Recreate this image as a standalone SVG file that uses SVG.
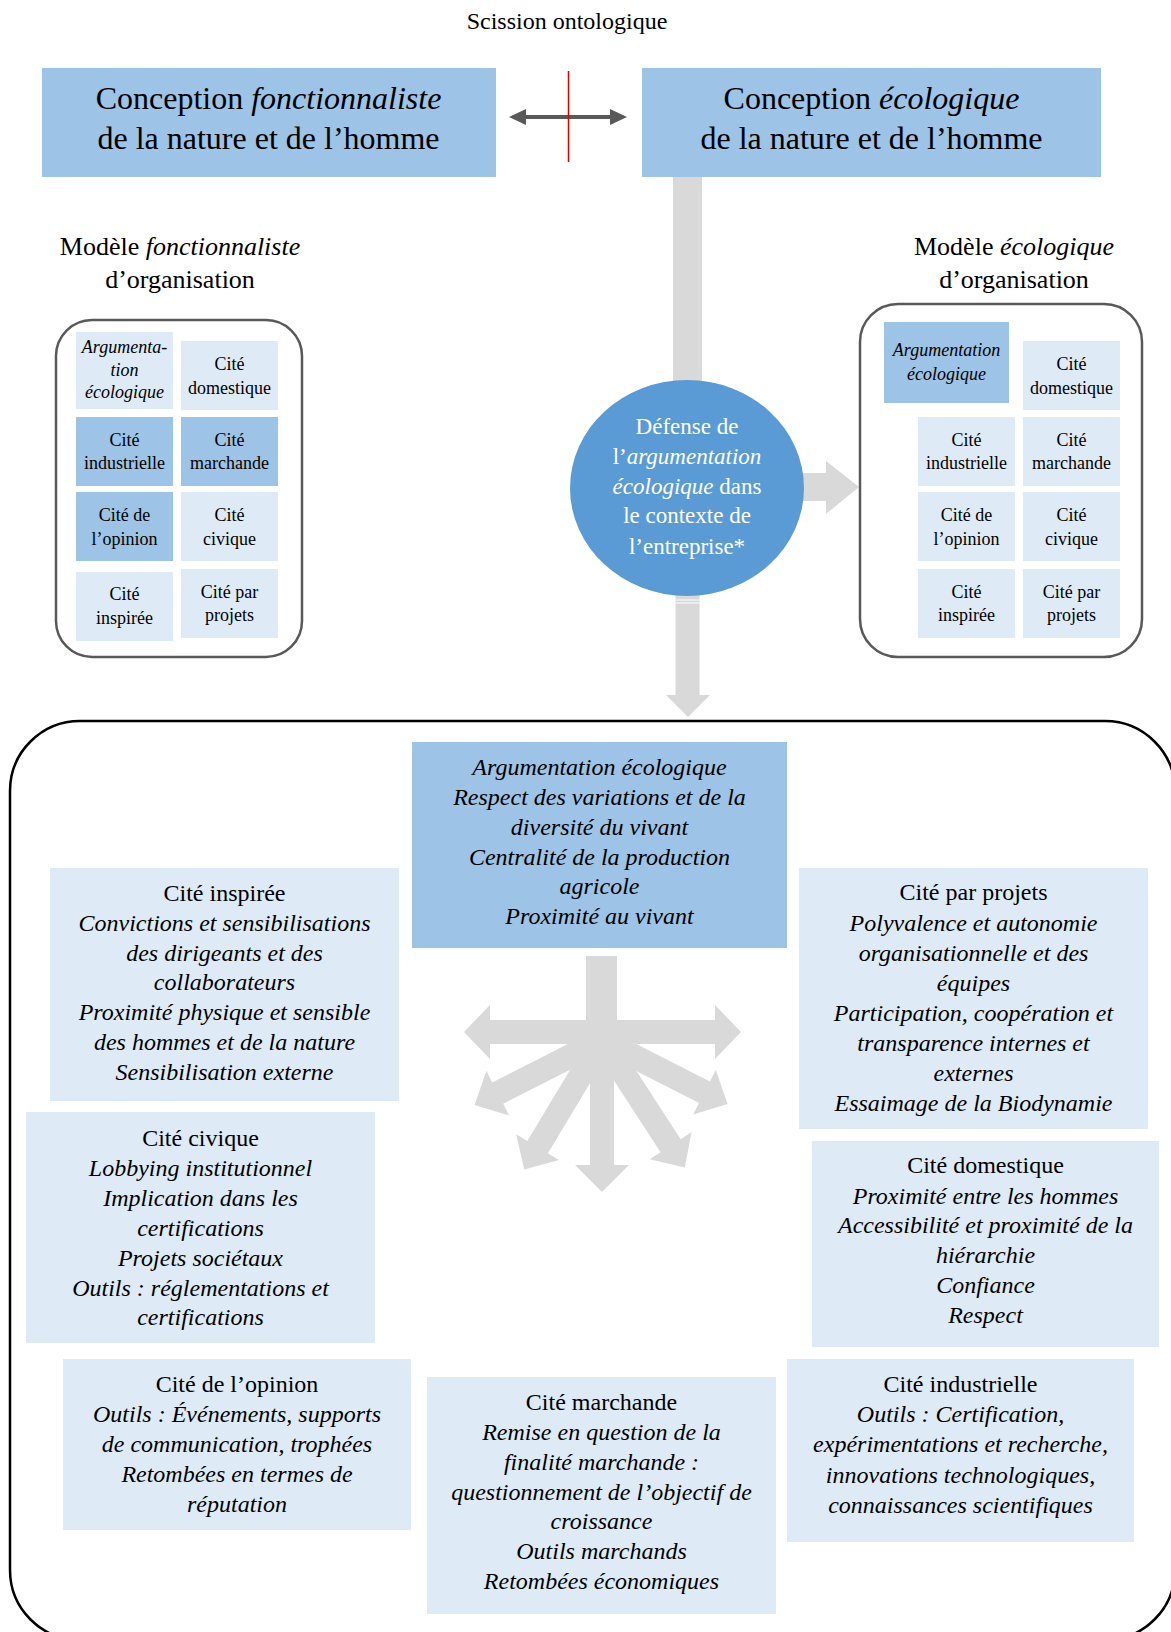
<svg xmlns="http://www.w3.org/2000/svg" width="1171" height="1632" viewBox="0 0 1171 1632">
<style>
text{font-family:"Liberation Serif","Times New Roman",serif;text-anchor:middle;fill:#000}
.i{font-style:italic}
.f32{font-size:32px}
.f26{font-size:26px}
.f24{font-size:24px}
.f23{font-size:23px}
.f18{font-size:18px}
.w{fill:#fff}
.light{fill:#DEEBF7}
.mid{fill:#9DC3E6}
.arr{fill:#D9D9D9}
.frame{fill:none;stroke:#595959;stroke-width:2.5}
</style>
<rect width="1171" height="1632" fill="#fff"/>

<g id="title">
<text class="f24" x="567" y="29">Scission ontologique</text>
</g>

<g id="connectors">
<line x1="520" y1="117" x2="616" y2="117" stroke="#595959" stroke-width="4"/>
<polygon points="509,117 526,109 526,125" fill="#595959"/>
<polygon points="627,117 610,109 610,125" fill="#595959"/>
<line x1="568.5" y1="71" x2="568.5" y2="162" stroke="#E00000" stroke-width="1.5"/>
<rect class="arr" x="673" y="177" width="29" height="210"/>
<polygon class="arr" points="795,473 826,473 826,461 859,487 826,514 826,501 795,501"/>
<polygon class="arr" points="675.5,590 699.5,590 699.5,695 710,695 688,717 666,695 675.5,695"/>
<line x1="675.5" y1="600" x2="699.5" y2="600" stroke="#fff" stroke-width="1"/>
<line x1="675.5" y1="603" x2="699.5" y2="603" stroke="#fff" stroke-width="1"/>
<g id="star">
<rect class="arr" x="586" y="956" width="31" height="80"/>
<polygon class="arr" points="464,1032 490,1005 490,1020 715,1020 715,1005 741,1032 715,1059 715,1044 490,1044 490,1059"/>
<polygon class="arr" points="590,1032 614,1032 614,1165 629,1165 602,1192 575,1165 590,1165"/>
<g transform="translate(602,1040)">
<polygon class="arr" transform="rotate(27)" points="-10,-12 115,-12 115,-25 141,0 115,25 115,12 -10,12"/>
<polygon class="arr" transform="rotate(153)" points="-10,-12 117,-12 117,-25 143,0 117,25 117,12 -10,12"/>
<polygon class="arr" transform="rotate(57)" points="-10,-12 126,-12 126,-25 152,0 126,25 126,12 -10,12"/>
<polygon class="arr" transform="rotate(121)" points="-10,-12 125,-12 125,-25 151,0 125,25 125,12 -10,12"/>
</g>
</g>
</g>

<g id="conception-fonctionnaliste">
<rect class="mid" x="42" y="68" width="454" height="109"/>
<text class="f32" x="268.5" y="109">Conception <tspan class="i">fonctionnaliste</tspan></text>
<text class="f32" x="268.5" y="149">de la nature et de l’homme</text>
</g>

<g id="conception-ecologique">
<rect class="mid" x="642" y="68" width="459" height="109"/>
<text class="f32" x="871.5" y="109">Conception <tspan class="i">écologique</tspan></text>
<text class="f32" x="871.5" y="149">de la nature et de l’homme</text>
</g>

<g id="defense">
<ellipse cx="687" cy="488" rx="117" ry="108" fill="#5B9BD5"/>
<text class="f23 w" x="687" y="434">Défense de</text>
<text class="f23 w" x="687" y="464">l’<tspan class="i">argumentation</tspan></text>
<text class="f23 w" x="687" y="494"><tspan class="i">écologique</tspan> dans</text>
<text class="f23 w" x="687" y="523">le contexte de</text>
<text class="f23 w" x="687" y="554">l’entreprise*</text>
</g>

<g id="modele-fonctionnaliste">
<text class="f26" x="180" y="255">Modèle <tspan class="i">fonctionnaliste</tspan></text>
<text class="f26" x="180" y="288">d’organisation</text>
<rect class="frame" x="56" y="320" width="246" height="337" rx="36"/>
<rect class="light" x="76" y="332" width="97" height="77"/>
<text class="f18 i" x="124.5" y="353">Argumenta-</text>
<text class="f18 i" x="124.5" y="376">tion</text>
<text class="f18 i" x="124.5" y="398">écologique</text>
<rect class="light" x="181" y="341" width="97" height="69"/>
<text class="f18" x="229.5" y="370">Cité</text>
<text class="f18" x="229.5" y="394">domestique</text>
<rect class="mid" x="76" y="417" width="97" height="69"/>
<text class="f18" x="124.5" y="446">Cité</text>
<text class="f18" x="124.5" y="469">industrielle</text>
<rect class="mid" x="181" y="417" width="97" height="69"/>
<text class="f18" x="229.5" y="446">Cité</text>
<text class="f18" x="229.5" y="469">marchande</text>
<rect class="mid" x="76" y="492" width="97" height="69"/>
<text class="f18" x="124.5" y="521">Cité de</text>
<text class="f18" x="124.5" y="545">l’opinion</text>
<rect class="light" x="181" y="492" width="97" height="69"/>
<text class="f18" x="229.5" y="521">Cité</text>
<text class="f18" x="229.5" y="545">civique</text>
<rect class="light" x="76" y="572" width="97" height="69"/>
<text class="f18" x="124.5" y="600">Cité</text>
<text class="f18" x="124.5" y="624">inspirée</text>
<rect class="light" x="181" y="569" width="97" height="69"/>
<text class="f18" x="229.5" y="598">Cité par</text>
<text class="f18" x="229.5" y="621">projets</text>
</g>

<g id="modele-ecologique">
<text class="f26" x="1014" y="255">Modèle <tspan class="i">écologique</tspan></text>
<text class="f26" x="1014" y="288">d’organisation</text>
<rect class="frame" x="860" y="304" width="282" height="353" rx="38"/>
<rect class="mid" x="884" y="322" width="125" height="81"/>
<text class="f18 i" x="946.5" y="356">Argumentation</text>
<text class="f18 i" x="946.5" y="380">écologique</text>
<rect class="light" x="1023" y="341" width="97" height="69"/>
<text class="f18" x="1071.5" y="370">Cité</text>
<text class="f18" x="1071.5" y="394">domestique</text>
<rect class="light" x="918" y="417" width="97" height="69"/>
<text class="f18" x="966.5" y="446">Cité</text>
<text class="f18" x="966.5" y="469">industrielle</text>
<rect class="light" x="1023" y="417" width="97" height="69"/>
<text class="f18" x="1071.5" y="446">Cité</text>
<text class="f18" x="1071.5" y="469">marchande</text>
<rect class="light" x="918" y="492" width="97" height="69"/>
<text class="f18" x="966.5" y="521">Cité de</text>
<text class="f18" x="966.5" y="545">l’opinion</text>
<rect class="light" x="1023" y="492" width="97" height="69"/>
<text class="f18" x="1071.5" y="521">Cité</text>
<text class="f18" x="1071.5" y="545">civique</text>
<rect class="light" x="918" y="569" width="97" height="69"/>
<text class="f18" x="966.5" y="598">Cité</text>
<text class="f18" x="966.5" y="621">inspirée</text>
<rect class="light" x="1023" y="569" width="97" height="69"/>
<text class="f18" x="1071.5" y="598">Cité par</text>
<text class="f18" x="1071.5" y="621">projets</text>
</g>

<g id="entreprise">
<rect x="10" y="721" width="1165" height="919" rx="70" fill="none" stroke="#000" stroke-width="2.5"/>
</g>

<g id="argumentation-ecologique">
<rect class="mid" x="412" y="742" width="375" height="206"/>
<text class="f24 i" x="599.5" y="775">Argumentation écologique</text>
<text class="f24 i" x="599.5" y="805">Respect des variations et de la</text>
<text class="f24 i" x="599.5" y="835">diversité du vivant</text>
<text class="f24 i" x="599.5" y="865">Centralité de la production</text>
<text class="f24 i" x="599.5" y="894">agricole</text>
<text class="f24 i" x="599.5" y="924">Proximité au vivant</text>
</g>

<g id="cite-inspiree">
<rect class="light" x="50" y="868" width="349" height="233"/>
<text class="f24" x="224.5" y="901">Cité inspirée</text>
<text class="f24 i" x="224.5" y="931">Convictions et sensibilisations</text>
<text class="f24 i" x="224.5" y="961">des dirigeants et des</text>
<text class="f24 i" x="224.5" y="990">collaborateurs</text>
<text class="f24 i" x="224.5" y="1020">Proximité physique et sensible</text>
<text class="f24 i" x="224.5" y="1050">des hommes et de la nature</text>
<text class="f24 i" x="224.5" y="1080">Sensibilisation externe</text>
</g>

<g id="cite-civique">
<rect class="light" x="26" y="1112" width="349" height="231"/>
<text class="f24" x="200.5" y="1146">Cité civique</text>
<text class="f24 i" x="200.5" y="1176">Lobbying institutionnel</text>
<text class="f24 i" x="200.5" y="1206">Implication dans les</text>
<text class="f24 i" x="200.5" y="1236">certifications</text>
<text class="f24 i" x="200.5" y="1266">Projets sociétaux</text>
<text class="f24 i" x="200.5" y="1296">Outils : réglementations et</text>
<text class="f24 i" x="200.5" y="1325">certifications</text>
</g>

<g id="cite-opinion">
<rect class="light" x="63" y="1359" width="348" height="171"/>
<text class="f24" x="237" y="1392">Cité de l’opinion</text>
<text class="f24 i" x="237" y="1422">Outils : Événements, supports</text>
<text class="f24 i" x="237" y="1452">de communication, trophées</text>
<text class="f24 i" x="237" y="1482">Retombées en termes de</text>
<text class="f24 i" x="237" y="1512">réputation</text>
</g>

<g id="cite-marchande">
<rect class="light" x="427" y="1377" width="349" height="237"/>
<text class="f24" x="601.5" y="1410">Cité marchande</text>
<text class="f24 i" x="601.5" y="1440">Remise en question de la</text>
<text class="f24 i" x="601.5" y="1470">finalité marchande :</text>
<text class="f24 i" x="601.5" y="1500">questionnement de l’objectif de</text>
<text class="f24 i" x="601.5" y="1529">croissance</text>
<text class="f24 i" x="601.5" y="1559">Outils marchands</text>
<text class="f24 i" x="601.5" y="1589">Retombées économiques</text>
</g>

<g id="cite-industrielle">
<rect class="light" x="787" y="1359" width="347" height="183"/>
<text class="f24" x="960.5" y="1392">Cité industrielle</text>
<text class="f24 i" x="960.5" y="1422">Outils : Certification,</text>
<text class="f24 i" x="960.5" y="1452">expérimentations et recherche,</text>
<text class="f24 i" x="960.5" y="1483">innovations technologiques,</text>
<text class="f24 i" x="960.5" y="1513">connaissances scientifiques</text>
</g>

<g id="cite-par-projets">
<rect class="light" x="799" y="868" width="349" height="261"/>
<text class="f24" x="973.5" y="900">Cité par projets</text>
<text class="f24 i" x="973.5" y="931">Polyvalence et autonomie</text>
<text class="f24 i" x="973.5" y="961">organisationnelle et des</text>
<text class="f24 i" x="973.5" y="991">équipes</text>
<text class="f24 i" x="973.5" y="1021">Participation, coopération et</text>
<text class="f24 i" x="973.5" y="1051">transparence internes et</text>
<text class="f24 i" x="973.5" y="1081">externes</text>
<text class="f24 i" x="973.5" y="1111">Essaimage de la Biodynamie</text>
</g>

<g id="cite-domestique">
<rect class="light" x="812" y="1141" width="347" height="206"/>
<text class="f24" x="985.5" y="1173">Cité domestique</text>
<text class="f24 i" x="985.5" y="1204">Proximité entre les hommes</text>
<text class="f24 i" x="985.5" y="1233">Accessibilité et proximité de la</text>
<text class="f24 i" x="985.5" y="1263">hiérarchie</text>
<text class="f24 i" x="985.5" y="1293">Confiance</text>
<text class="f24 i" x="985.5" y="1323">Respect</text>
</g>
</svg>
